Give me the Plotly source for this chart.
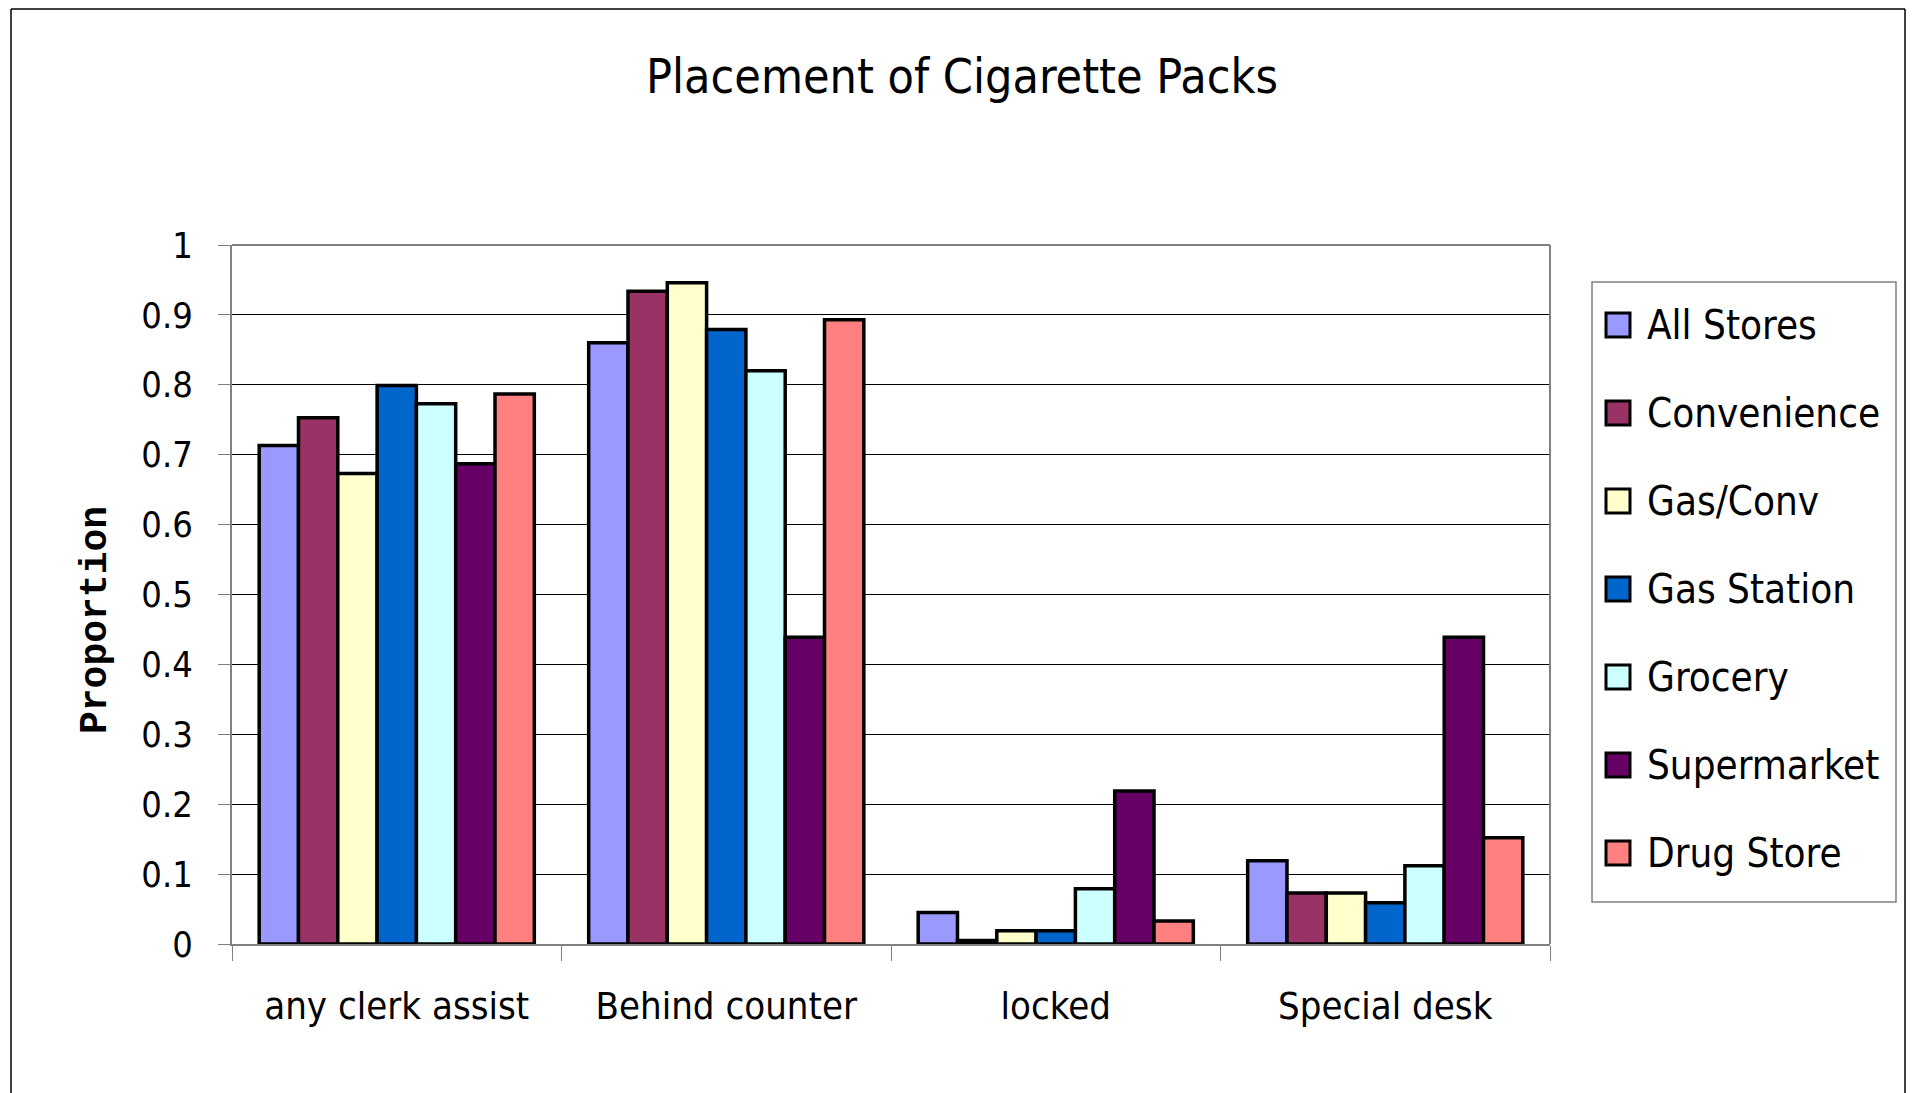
import plotly.graph_objects as go

categories = ["any clerk assist", "Behind counter", "locked", "Special desk"]
series_names = ["All Stores", "Convenience", "Gas/Conv", "Gas Station", "Grocery", "Supermarket", "Drug Store"]
all_stores = [0.713, 0.860, 0.045, 0.119]
convenience = [0.753, 0.934, 0.005, 0.073]
gas_conv = [0.673, 0.946, 0.019, 0.073]
gas_station = [0.799, 0.879, 0.019, 0.059]
grocery = [0.773, 0.820, 0.079, 0.112]
supermarket = [0.687, 0.439, 0.219, 0.439]
drug_store = [0.787, 0.893, 0.033, 0.152]
colors = ["#9999FF", "#993366", "#FFFFCC", "#0066CC", "#CCFFFF", "#660066", "#FF8080"]

values = [all_stores, convenience, gas_conv, gas_station, grocery, supermarket, drug_store]

FONT = "DejaVu Sans Condensed, Liberation Sans Narrow, sans-serif"

fig = go.Figure()
for i, (name, vals) in enumerate(zip(series_names, values)):
    fig.add_trace(go.Bar(
        x=categories, y=vals, name=name, showlegend=False,
        marker=dict(color=colors[i], line=dict(color="black", width=3.5)),
    ))

W, H = 1917, 1093
L, R, T, B = 224, 1542, 237, 936   # plot-area edges in figure pixels
pw, ph = R - L, B - T

def fx(x):
    return (x - L) / pw

def fy(y):
    return (B - y) / ph

fig.update_layout(
    width=W, height=H,
    margin=dict(l=L, r=W - R, t=T, b=H - B, autoexpand=False),
    paper_bgcolor="white", plot_bgcolor="white",
    barmode="group", bargap=0.165, bargroupgap=0,
    font=dict(family=FONT, color="black", size=34),
    title=dict(text="Placement of Cigarette Packs", x=fx(954), xanchor="center", xref="paper",
               y=1 - 68 / H, yanchor="middle",
               font=dict(family=FONT, size=48, color="black")),
    showlegend=False,
    xaxis=dict(showgrid=False, showline=True, linecolor="#808080", linewidth=2,
               ticks="outside", tickson="boundaries", ticklen=15, tickcolor="#808080",
               tickfont=dict(family=FONT, size=38), ticklabelstandoff=27),
    yaxis=dict(range=[0, 1], dtick=0.1, showgrid=True, gridcolor="black", gridwidth=1,
               showline=True, linecolor="#808080", linewidth=2,
               ticks="outside", ticklen=12, tickcolor="#808080",
               tickfont=dict(family=FONT, size=36), tickformat=".1~f",
               ticklabelstandoff=18),
)

# y-axis title
fig.add_annotation(text="<b>Proportion</b>", xref="paper", yref="paper",
                   x=fx(87), y=fy(612), xanchor="center", yanchor="middle",
                   textangle=-90, showarrow=False,
                   font=dict(family="Liberation Mono, Courier New, monospace", size=38, color="black"))

# plot-area top & right border (gray)
fig.add_shape(type="line", xref="paper", yref="paper", x0=0, x1=1, y0=1, y1=1,
              line=dict(color="#808080", width=2))
fig.add_shape(type="line", xref="paper", yref="paper", x0=1, x1=1, y0=0, y1=1,
              line=dict(color="#808080", width=2))

# outer chart border
for (x0, y0, x1, y1) in [(3, 1, 1897, 1), (3, 1, 3, 1093), (1897, 1, 1897, 1093)]:
    fig.add_shape(type="line", xref="paper", yref="paper",
                  x0=fx(x0), x1=fx(x1), y0=fy(y0), y1=fy(y1),
                  line=dict(color="black", width=1.5))

# legend box
lx0, lx1, ly0, ly1 = 1584, 1888, 274, 894
fig.add_shape(type="rect", xref="paper", yref="paper",
              x0=fx(lx0), x1=fx(lx1), y0=fy(ly1), y1=fy(ly0),
              line=dict(color="#808080", width=1.5), fillcolor="white")
row0, dy = 317, 88
for i, name in enumerate(series_names):
    cy = row0 + i * dy
    fig.add_shape(type="rect", xref="paper", yref="paper",
                  x0=fx(1598), x1=fx(1622), y0=fy(cy + 12), y1=fy(cy - 12),
                  line=dict(color="black", width=3), fillcolor=colors[i])
    fig.add_annotation(text=name, xref="paper", yref="paper",
                       x=fx(1637), y=fy(cy), xanchor="left", yanchor="middle",
                       showarrow=False, font=dict(family=FONT, size=40, color="black"))

fig.write_html("out.html")
